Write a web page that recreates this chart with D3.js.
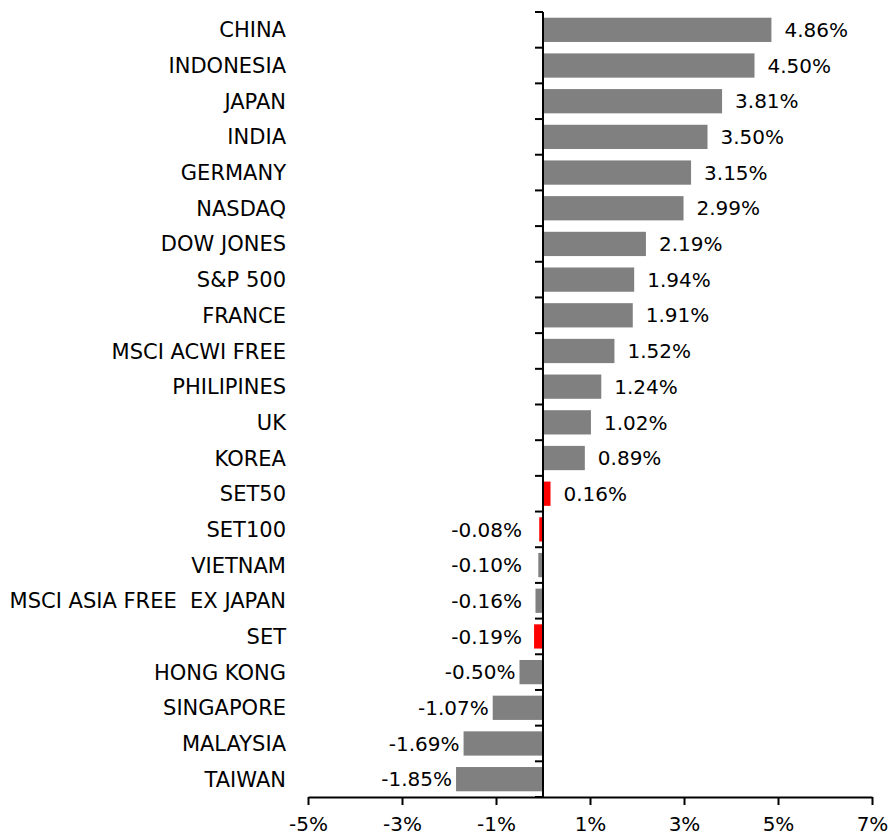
<!DOCTYPE html>
<html>
<head>
<meta charset="utf-8">
<script src="https://cdnjs.cloudflare.com/ajax/libs/d3/7.8.5/d3.min.js"></script>
<style>
  body { margin: 0; background: #fff; }
  text { font-family: "DejaVu Sans", Verdana, sans-serif; fill: #000; }
</style>
</head>
<body>
<div id="chart"></div>
<script>
// categories top to bottom, returns in %
const markets = ["CHINA", "INDONESIA", "JAPAN", "INDIA", "GERMANY", "NASDAQ", "DOW JONES", "S&P 500",
    "FRANCE", "MSCI ACWI FREE", "PHILIPINES", "UK", "KOREA", "SET50", "SET100", "VIETNAM",
    "MSCI ASIA FREE  EX JAPAN", "SET", "HONG KONG", "SINGAPORE", "MALAYSIA", "TAIWAN"];
const returns = [4.86, 4.50, 3.81, 3.50, 3.15, 2.99, 2.19, 1.94, 1.91, 1.52, 1.24, 1.02, 0.89,
    0.16, -0.08, -0.10, -0.16, -0.19, -0.50, -1.07, -1.69, -1.85];
const highlighted = ["SET50", "SET100", "SET"];
const xTicks = [-5, -3, -1, 1, 3, 5, 7];

const data = markets.map((m, i) => ({ name: m, value: returns[i] }));

const width = 893, height = 837;

const svg = d3.select("#chart").append("svg")
    .attr("width", width)
    .attr("height", height)
    .style("display", "block");

const x = d3.scaleLinear()
    .domain([-5, 7])
    .range([308, 872]);

const y = d3.scaleBand()
    .domain(markets)
    .range([12, 797])
    .paddingInner(0.32)
    .paddingOuter(0.16);

const step = y.step();
const x0 = x(0);

// bars
svg.selectAll(".bar")
    .data(data)
    .enter()
    .append("rect")
    .attr("class", "bar")
    .attr("x", d => x(Math.min(0, d.value)))
    .attr("y", d => y(d.name))
    .attr("width", d => Math.abs(x(d.value) - x0))
    .attr("height", y.bandwidth())
    .attr("fill", d => highlighted.includes(d.name) ? "#ff0000" : "#808080");

// value labels
svg.selectAll(".label")
    .data(data)
    .enter()
    .append("text")
    .attr("class", "label")
    .attr("x", d => d.value >= 0 ? x(d.value) + 13 : Math.min(x(d.value) - 4, x0 - 21))
    .attr("y", d => y(d.name) + y.bandwidth() / 2)
    .attr("dy", "0.36em")
    .attr("text-anchor", d => d.value >= 0 ? "start" : "end")
    .style("font-size", "20px")
    .text(d => d.value.toFixed(2) + "%");

// category labels
svg.selectAll(".cat")
    .data(data)
    .enter()
    .append("text")
    .attr("class", "cat")
    .attr("x", 286)
    .attr("y", d => y(d.name) + y.bandwidth() / 2)
    .attr("dy", "0.36em")
    .attr("text-anchor", "end")
    .style("font-size", "21px")
    .style("white-space", "pre")
    .text(d => d.name);

// vertical axis at zero with ticks at category boundaries
svg.append("line")
    .attr("x1", x0).attr("x2", x0)
    .attr("y1", 12).attr("y2", 797)
    .attr("stroke", "#000").attr("stroke-width", 2);

svg.selectAll(".ytick")
    .data(d3.range(markets.length + 1))
    .enter()
    .append("line")
    .attr("x1", x0 - 8).attr("x2", x0)
    .attr("y1", i => 12 + i * step)
    .attr("y2", i => 12 + i * step)
    .attr("stroke", "#000").attr("stroke-width", 2);

// bottom axis
const xAxis = svg.append("g")
    .attr("transform", "translate(0,797)")
    .call(d3.axisBottom(x)
        .tickValues(xTicks)
        .tickSize(8)
        .tickSizeOuter(0)
        .tickPadding(12)
        .tickFormat(d => d + "%"));

xAxis.select(".domain").attr("stroke-width", 2);
xAxis.selectAll(".tick line").attr("stroke-width", 2);
xAxis.selectAll("text")
    .style("font-size", "20px")
    .style("font-family", "'DejaVu Sans', Verdana, sans-serif");
</script>
</body>
</html>
